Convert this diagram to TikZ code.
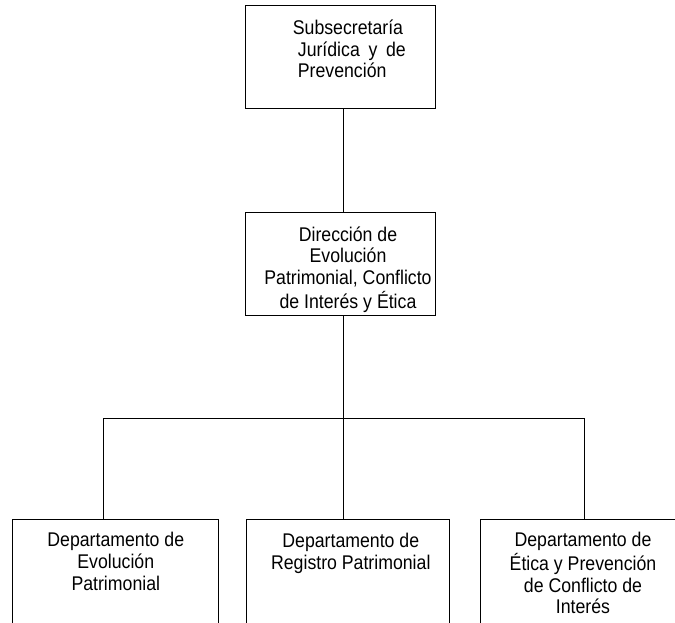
\documentclass[tikz,border=0pt]{standalone}
\usepackage{fontspec}
\setmainfont{Liberation Sans}
\usetikzlibrary{calc}
% text block set slightly taller than wide
\newcommand\tallc[1]{\scalebox{1}[1.12]{\begin{tabular}{@{}c@{}}#1\end{tabular}}}
\newcommand\talll[1]{\scalebox{1}[1.12]{\begin{tabular}{@{}l@{}}#1\end{tabular}}}
\begin{document}
\begin{tikzpicture}[x=1pt,y=-1pt,
  box/.style={draw=black, line width=1pt, rectangle, inner sep=0pt, anchor=north west},
  lbl/.style={font=\fontsize{17.7}{19.4}\selectfont, inner sep=0pt, anchor=north},
  link/.style={draw=black, line width=1pt}]
\clip (0,0) rectangle (675,623);
\fill[white] (0,0) rectangle (675,623);

% boxes
\node[box, minimum width=190pt, minimum height=103pt] (sub) at (245,5) {};
\node[box, minimum width=190pt, minimum height=103pt] (dir) at (245,212) {};
\node[box, minimum width=206pt, minimum height=200pt] (d1) at (12,519) {};
\node[box, minimum width=203pt, minimum height=200pt] (d2) at (246,519) {};
\node[box, minimum width=206pt, minimum height=200pt] (d3) at (480,519) {};

% box texts
\node[lbl, anchor=north west] (subT) at (292.7,19.1)
  {\talll{Subsecretaría\\\hspace*{5pt}Jurídica\hspace{8.7pt}y\hspace{8.7pt}de\\\hspace*{5pt}Prevención}};
\node[lbl] (dirT) at (348,225.8) {\tallc{Dirección de\\Evolución\\Patrimonial, Conflicto\\de Interés y Ética}};
\node[lbl] (d1T) at (115.8,531.4) {\tallc{Departamento de\\Evolución\\Patrimonial}};
\node[lbl] (d2T) at (350.8,532.5) {\tallc{Departamento de\\Registro Patrimonial}};
\node[lbl] (d3T) at (583,531.4) {\tallc{Departamento de\\Ética y Prevención\\de Conflicto de\\Interés}};

% connectors
\coordinate (busL) at (103,418);
\coordinate (busM) at (343,418);
\coordinate (busR) at (584,418);
\draw[link] ($(sub.south west)+(98,0)$) -- ($(dir.north west)+(98,0)$);
\draw[link] ($(dir.south west)+(98,0)$) -- (busM);
\draw[link] (busL |- d1.north) -- (busL) -- (busR) -- (busR |- d3.north);
\draw[link] (busM) -- (busM |- d2.north);
\end{tikzpicture}
\end{document}
